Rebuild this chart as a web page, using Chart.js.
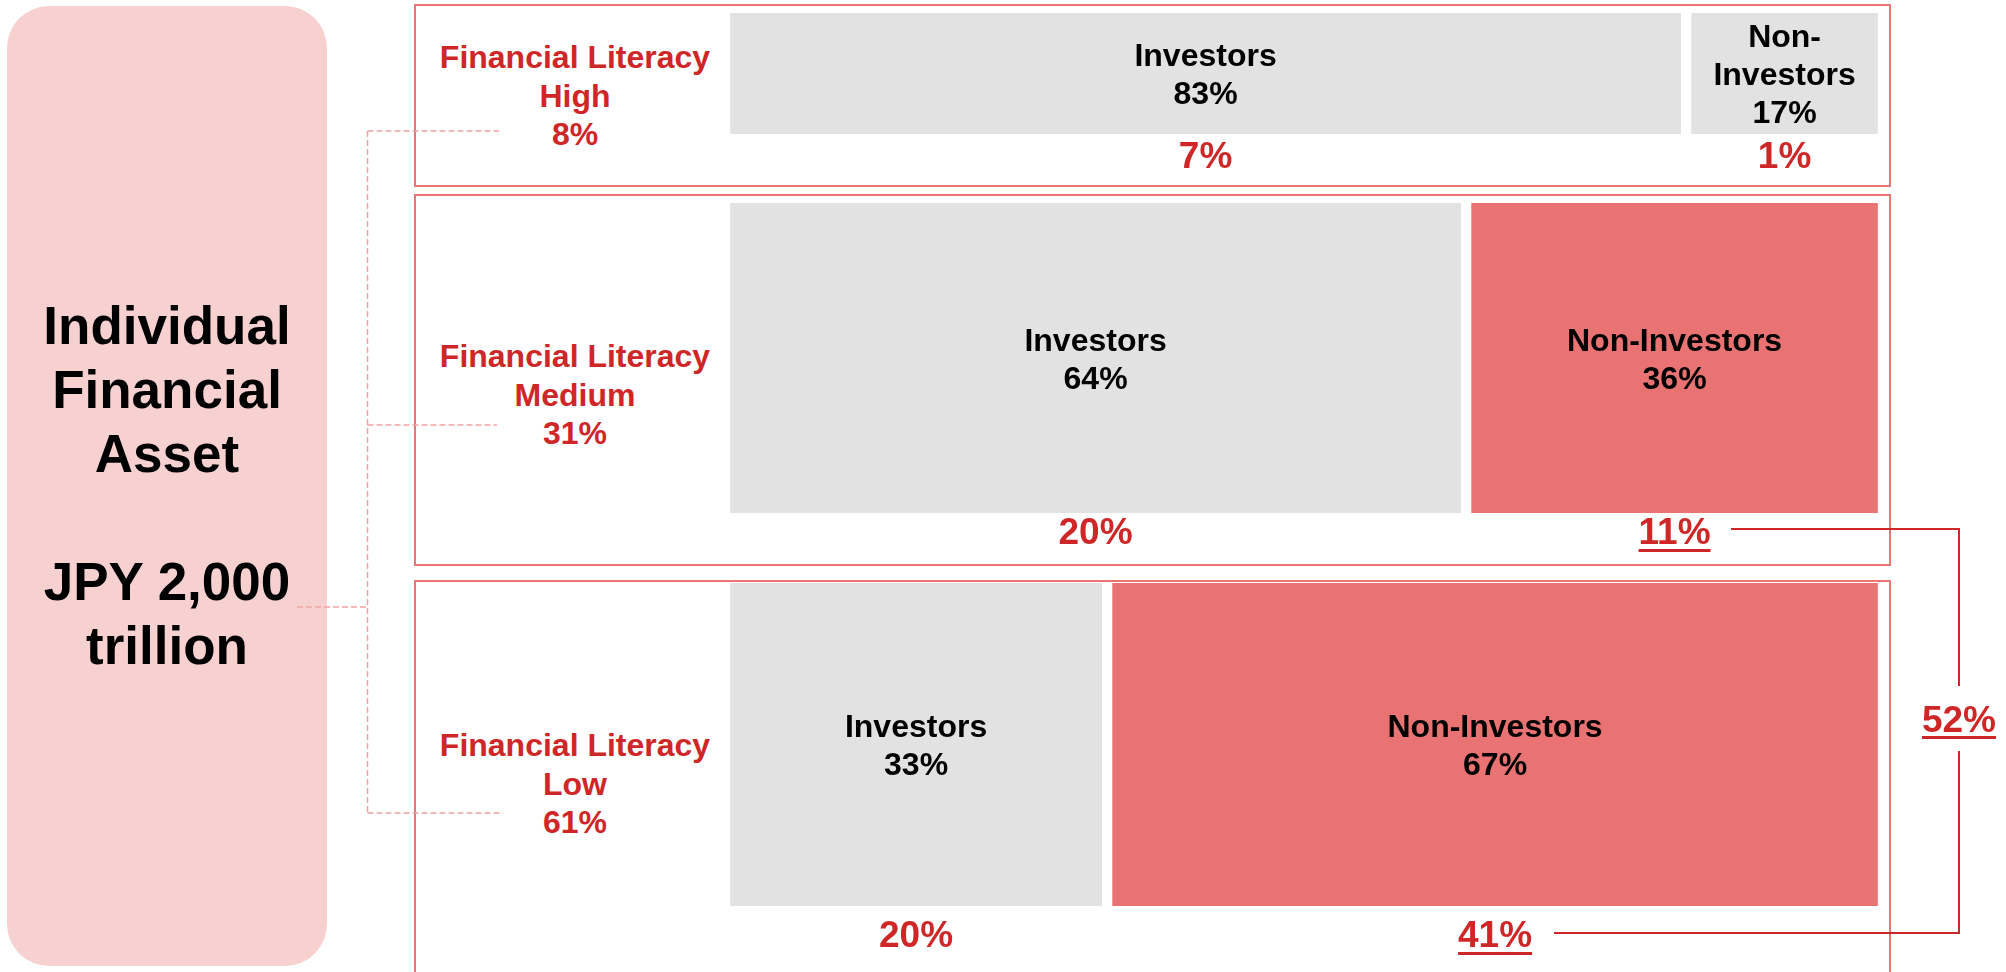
<!DOCTYPE html>
<html>
<head>
<meta charset="utf-8">
<title>Individual Financial Asset</title>
<script src="https://cdn.jsdelivr.net/npm/chart.js@4.4.1/dist/chart.umd.min.js"></script>
<style>
  body { margin: 0; background: #fff; }
  #page { position: relative; width: 2006px; height: 972px; overflow: hidden;
          font-family: 'Liberation Sans', Arial, sans-serif; font-weight: bold; }
  .asset { position: absolute; left: 7px; top: 6px; width: 320px; height: 960px;
           background: #f7d0d0; border-radius: 42px; display: flex; align-items: center;
           justify-content: center; text-align: center; white-space: pre-line;
           font-size: 53px; line-height: 64px; color: #000; }
  .panel { position: absolute; left: 414px; width: 1473px; border: 2px solid #e97676; }
  .level { position: absolute; left: 430px; width: 290px; text-align: center; font-size: 32px;
           line-height: 38.5px; color: #cf2727; white-space: pre-line; }
  .plot { position: absolute; left: 725px; }
  .total { position: absolute; left: 1909px; width: 100px; text-align: center; font-size: 37px;
           line-height: 40px; color: #cf2727; text-decoration: underline;
           text-decoration-thickness: 3px; text-underline-offset: 4px; }
  svg { position: absolute; left: 0; top: 0; }
</style>
</head>
<body>
<div id="page">
  <div class="asset" id="asset"></div>
  <div class="panel" style="top:4px;height:179px"></div>
  <div class="panel" style="top:194px;height:368px"></div>
  <div class="panel" style="top:580px;height:500px"></div>
  <div class="level" id="level0" style="top:38px"></div>
  <div class="level" id="level1" style="top:337px"></div>
  <div class="level" id="level2" style="top:726px"></div>
  <canvas class="plot" id="plot0" width="1158" height="166" style="top:13px"></canvas>
  <canvas class="plot" id="plot1" width="1158" height="352" style="top:203px"></canvas>
  <canvas class="plot" id="plot2" width="1158" height="377" style="top:583px"></canvas>
  <svg width="2006" height="972">
    <g stroke="#f2a2a2" stroke-width="1.5" stroke-dasharray="6 3" fill="none">
      <line x1="367.5" y1="131" x2="367.5" y2="813"/>
      <line x1="367.5" y1="131" x2="499" y2="131"/>
      <line x1="367.5" y1="425" x2="497" y2="425"/>
      <line x1="367.5" y1="813" x2="503" y2="813"/>
      <line x1="297" y1="607" x2="367.5" y2="607"/>
    </g>
    <g stroke="#cf2727" stroke-width="2" fill="none">
      <polyline points="1731,529 1959,529 1959,686"/>
      <polyline points="1959,751 1959,933 1554,933"/>
    </g>
  </svg>
  <div class="total" id="total" style="top:700px"></div>
</div>
<script>
// Datos del gráfico
const assetTitle = 'Individual\nFinancial\nAsset\n\nJPY 2,000\ntrillion';
const levels = ['High', 'Medium', 'Low'];
const levelShare = [8, 31, 61];
const groups = ['Investors', 'Non-Investors'];
const investorShare = [83, 64, 33];
const nonInvestorShare = [17, 36, 67];
const investorAsset = [7, 20, 20];
const nonInvestorAsset = [1, 11, 41];
const highlighted = [false, true, true];

// Estilo y posiciones
const grey = '#e2e2e2';
const red = '#e87372';
const noteRed = '#cf2727';
const barHeight = [121, 310, 323];
const noteGap = [21, 18, 28];
const fontFamily = '"Liberation Sans", Arial, sans-serif';

document.getElementById('asset').textContent = assetTitle;
levels.forEach(function(lv, i) {
    document.getElementById('level' + i).textContent =
        'Financial Literacy\n' + lv + '\n' + levelShare[i] + '%';
});

// Etiquetas dentro y debajo de las barras
const barLabels = {
    id: 'barLabels',
    afterDatasetsDraw(chart, args, opts) {
        const ctx = chart.ctx;
        ctx.save();
        ctx.textAlign = 'center';
        ctx.textBaseline = 'alphabetic';
        chart.data.datasets.forEach(function(ds, i) {
            const bar = chart.getDatasetMeta(i).data[0];
            const cx = (bar.x + bar.base) / 2;
            const room = Math.abs(bar.x - bar.base) - 21;

            ctx.font = 'bold 32px ' + fontFamily;
            ctx.fillStyle = '#000';
            let lines = [ds.label];
            if (ctx.measureText(ds.label).width > room) {
                lines = ds.label.replace('-', '-\n').split('\n');
            }
            lines.push(ds.data[0] + '%');
            const first = bar.y - (lines.length - 1) * 38 / 2;
            lines.forEach(function(t, k) {
                ctx.fillText(t, cx, first + k * 38 + 11.5);
            });

            ctx.font = 'bold 37px ' + fontFamily;
            ctx.fillStyle = noteRed;
            const note = ds.asset + '%';
            const base = chart.chartArea.bottom + opts.gap + 13;
            ctx.fillText(note, cx, base);
            if (ds.underline) {
                const w = ctx.measureText(note).width;
                ctx.fillRect(cx - w / 2, base + 5, w, 3);
            }
        });
        ctx.restore();
    }
};

levels.forEach(function(lv, i) {
    const canvas = document.getElementById('plot' + i);
    const padBottom = canvas.height - barHeight[i];
    new Chart(canvas, {
        type: 'bar',
        data: {
            labels: [lv],
            datasets: [{
                label: groups[0],
                data: [investorShare[i]],
                asset: investorAsset[i],
                underline: false,
                backgroundColor: grey
            }, {
                label: groups[1],
                data: [nonInvestorShare[i]],
                asset: nonInvestorAsset[i],
                underline: highlighted[i],
                backgroundColor: highlighted[i] ? red : grey
            }]
        },
        options: {
            indexAxis: 'y',
            responsive: false,
            animation: false,
            layout: { padding: { left: 0, right: 0, top: 0, bottom: padBottom } },
            datasets: {
                bar: {
                    barPercentage: 1,
                    categoryPercentage: 1,
                    borderColor: '#fff',
                    borderWidth: { left: 5.5, right: 5.5, top: 0, bottom: 0 },
                    borderSkipped: false
                }
            },
            scales: {
                x: { display: false, stacked: true, min: 0, max: 100 },
                y: { display: false, stacked: true }
            },
            plugins: {
                legend: { display: false },
                tooltip: { enabled: false },
                barLabels: { gap: noteGap[i] }
            }
        },
        plugins: [barLabels]
    });
});

// Suma de los activos de no inversores destacados
const total = nonInvestorAsset.reduce(function(s, v, i) {
    return highlighted[i] ? s + v : s;
}, 0);
document.getElementById('total').textContent = total + '%';
</script>
</body>
</html>
